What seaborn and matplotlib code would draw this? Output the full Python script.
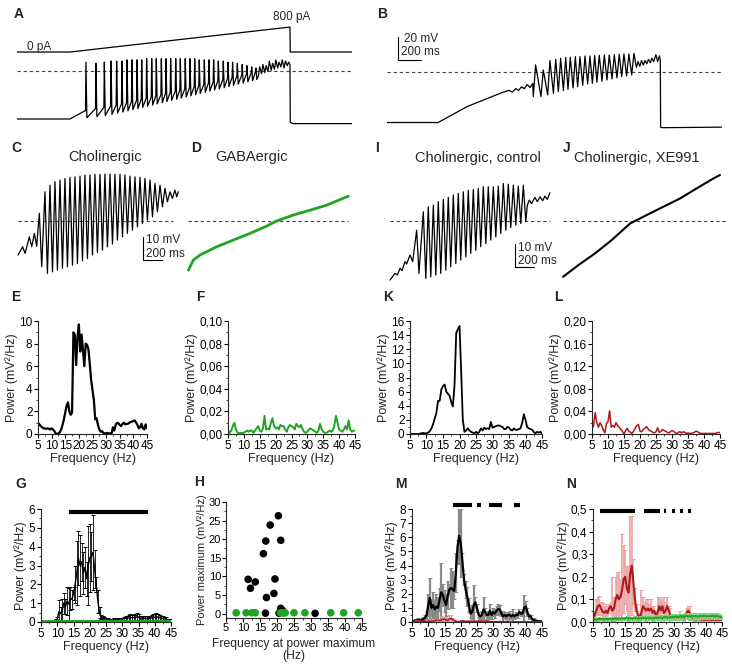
import numpy as np
import matplotlib
matplotlib.use('Agg')
import matplotlib.pyplot as plt
from matplotlib.ticker import MultipleLocator, AutoMinorLocator, FuncFormatter
import seaborn as sns

sns.set_theme(style='ticks')
plt.rcParams['font.family'] = ['Liberation Sans', 'DejaVu Sans']
plt.rcParams['axes.linewidth'] = 0.8

BLACK = '#000000'
GREEN = '#1fa51f'
RED = '#b01818'

# ---------------- voltage traces (ms, mV) ----------------
# A: ramp current injection, cholinergic cell
a_stim_t = [0, 461, 2375, 2378, 2915]
a_stim_pa = [0, 0, 800, 0, 0]
a_pre_t = [0, 461, 590]
a_pre_v = [-81, -81, -74]
a_spk_t = [600, 687, 760, 818, 867, 913, 957, 1000, 1044, 1085, 1128, 1172, 1212, 1256, 1296, 1337, 1381,
           1421, 1464, 1505, 1546, 1586, 1630, 1670, 1711, 1752, 1795, 1836, 1876, 1917, 1960, 2001, 2042, 2079]
a_spk_peak = [-32, -33, -32, -31, -31, -31, -30, -30, -30, -30, -29, -29, -29, -29, -29, -29, -29,
              -29, -29, -29, -29, -30, -30, -30, -30, -31, -31, -32, -32, -33, -34, -35, -36, -37]
a_spk_trough = [-80, -79, -78, -77, -76, -75, -74, -73, -72, -71, -70, -69, -68, -67, -66, -65, -64,
                -63, -62, -61, -60, -59, -58, -57, -56, -55, -54, -53, -52, -51, -50, -49, -48, -47]
a_spk_thr = [-74, -72, -71, -70, -69, -68, -67, -66, -65, -64, -63, -62, -61, -60, -59, -58, -57,
             -56, -55, -54, -53, -52, -51, -50, -49, -48, -47, -46, -45, -44, -43, -42, -41, -40]
a_tail_t = [2100, 2112, 2128, 2140, 2156, 2168, 2184, 2196, 2212, 2224, 2240, 2252, 2268, 2280, 2296,
            2308, 2324, 2336, 2352, 2364, 2375]
a_tail_v = [-44, -36, -42, -34, -41, -35, -40, -31, -39, -33, -38, -30, -37, -32, -36, -30, -37, -31,
            -35, -32, -34]
a_end_t = [2378, 2400, 2915]
a_end_v = [-84, -85, -85]

# B: same ramp, other cholinergic cell
b_pre_t = [0, 444, 700, 900, 1000, 1060, 1090, 1120, 1145, 1170, 1195, 1220, 1245, 1268]
b_pre_v = [-84, -84, -70, -62, -58, -56, -57.5, -54.5, -56, -53, -54.5, -51, -53.5, -50]
b_osc_t = [1293, 1360, 1418, 1468, 1511, 1555, 1595, 1639, 1679, 1723, 1766, 1807, 1847, 1891, 1934,
           1978, 2021, 2062, 2105, 2149]
b_osc_peak = [-33.9, -38.3, -30.1, -29.0, -28.1, -27.5, -27.2, -26.7, -26.7, -26.1, -26.1, -25.8, -25.5,
              -25.2, -25.2, -24.9, -24.6, -24.3, -24.3, -23.8]
b_osc_trough = [-61.5, -61.5, -60.0, -58.6, -57.1, -56.2, -55.1, -53.9, -52.8, -51.6, -50.4, -49.9,
                -49.0, -48.1, -47.0, -46.1, -45.2, -44.1, -43.5, -42.6]
b_tail_t = [2170, 2185, 2200, 2215, 2230, 2245, 2260, 2275, 2290, 2305, 2320, 2340, 2355, 2370, 2378]
b_tail_v = [-36, -31, -35, -30, -34, -30, -33, -29, -32, -28, -31, -25, -31, -26, -30]
b_end_t = [2381, 2400, 2915]
b_end_v = [-88, -88.5, -88]

# C: cholinergic, expanded
c_pre_t = [0, 49, 74, 119, 144, 172, 196, 224, 249]
c_pre_v = [-54.8, -51.2, -54.1, -46.9, -51.2, -45.4, -51.0, -36.7, -59.9]
c_osc_t = [283, 336, 388, 441, 493, 546, 598, 651, 703, 756, 808, 861, 913, 966, 1018, 1071, 1123,
           1176, 1228, 1281, 1333, 1386, 1438, 1491, 1543, 1596]
c_osc_peak = [-27.3, -24.4, -22.9, -22.2, -21.5, -21.0, -20.8, -20.5, -20.0, -20.0, -19.7, -19.7, -19.6,
              -19.6, -19.7, -19.7, -20.0, -20.5, -20.8, -21.0, -21.5, -22.2, -23.7, -24.4, -25.8, -27.3]
c_osc_trough = [-62.8, -62.1, -61.4, -60.6, -59.9, -59.2, -58.5, -57.3, -56.3, -54.8, -53.7, -52.7,
                -51.2, -50.0, -48.3, -46.9, -45.4, -44.0, -42.5, -41.1, -39.6, -38.2, -36.0, -33.8,
                -31.6, -30.2]
c_tail_t = [1631, 1648, 1666, 1683]
c_tail_v = [-28.7, -26.6, -29.5, -27.3]

# D: GABAergic
d_t = [4, 56, 126, 301, 476, 651, 826, 931, 1106, 1281, 1456, 1684]
d_v = [-61.4, -57.0, -54.8, -51.2, -48.3, -45.4, -42.2, -40.0, -37.4, -35.3, -33.1, -29.2]

# I: cholinergic, control
i_pre_t = [0, 52, 77, 105, 126, 157, 175, 210, 238, 280, 304]
i_pre_v = [-65.7, -62.8, -63.5, -60.6, -61.6, -57.7, -58.7, -54.8, -57.7, -44.0, -62.8]
i_osc_t = [350, 402, 455, 507, 560, 612, 665, 717, 770, 822, 875, 927, 980, 1032, 1085, 1137, 1190,
           1242, 1295, 1347, 1400]
i_osc_peak = [-36.0, -33.8, -33.1, -31.6, -30.6, -29.7, -28.7, -28.0, -27.3, -26.6, -26.3, -25.8, -25.1,
              -25.1, -25.1, -24.8, -23.7, -24.0, -24.4, -24.8, -24.4]
i_osc_trough = [-65.0, -64.3, -63.5, -62.8, -61.4, -59.9, -58.5, -57.0, -55.6, -54.1, -52.7, -51.2,
                -49.8, -48.3, -46.9, -45.4, -44.0, -42.8, -41.8, -41.1, -40.3]
i_tail_t = [1442, 1463, 1487, 1522, 1547, 1575, 1603, 1627, 1652, 1680]
i_tail_v = [-33.1, -30.9, -32.4, -29.7, -31.6, -29.5, -31.2, -29.2, -30.6, -27.7]

# J: cholinergic, XE991
j_t = [0, 161, 336, 511, 704, 879, 1054, 1229, 1404, 1579, 1648]
j_v = [-64.3, -59.2, -54.1, -48.3, -41.1, -37.4, -33.8, -30.2, -25.8, -21.5, -20.0]

dash_level = -40

# ---------------- power spectra (0.5 Hz bins, 5-45 Hz) ----------------
freq = np.arange(5, 45.01, 0.5)

e_power = [1.0, 0.85, 0.7, 0.6, 0.5, 0.5, 0.45, 0.5, 0.45, 0.4,
           0.5, 0.4, 0.25, 0.05, 0.0, 0.05, 0.15, 0.4, 0.8, 1.3,
           1.9, 2.5, 2.8, 2.0, 1.7, 1.9, 9.0, 8.8, 6.1, 8.6,
           9.7, 7.3, 8.8, 7.4, 6.0, 8.0, 7.9, 7.5, 6.2, 4.8,
           3.9, 3.0, 1.3, 1.4, 0.8, 0.4, 0.2, 0.25, 0.1, 0.05,
           0.05, 0.1, 0.05, 0.05, 0.05, 0.6, 0.3, 0.8, 1.0, 0.95,
           0.8, 0.7, 0.9, 1.0, 0.85, 0.9, 0.9, 1.0, 1.05, 1.1,
           1.15, 1.2, 1.0, 0.8, 0.5, 0.6, 0.9, 0.5, 0.4, 0.85,
           0.5]

f_power = [0.003, 0.001, 0.003, 0.007, 0.010, 0.004, 0.001, 0.001, 0.001, 0.001,
           0.001, 0.002, 0.003, 0.002, 0.003, 0.003, 0.001, 0.003, 0.005, 0.007,
           0.003, 0.002, 0.005, 0.016, 0.004, 0.005, 0.004, 0.010, 0.014, 0.007,
           0.005, 0.006, 0.004, 0.008, 0.007, 0.007, 0.004, 0.002, 0.006, 0.008,
           0.007, 0.006, 0.004, 0.009, 0.007, 0.006, 0.008, 0.004, 0.002, 0.001,
           0.002, 0.004, 0.005, 0.004, 0.003, 0.002, 0.001, 0.003, 0.009, 0.004,
           0.002, 0.001, 0.001, 0.002, 0.003, 0.002, 0.003, 0.008, 0.016, 0.010,
           0.004, 0.003, 0.002, 0.004, 0.007, 0.004, 0.012, 0.004, 0.002, 0.003,
           0.003]

k_power = [0.0, 0.0, 0.0, 0.0, 0.0, 0.0, 0.05, 0.1, 0.15, 0.1,
           0.1, 0.2, 0.4, 0.8, 1.4, 2.2, 3.0, 4.7, 4.7, 6.3,
           6.8, 7.0, 6.0, 5.7, 5.4, 4.5, 3.9, 7.0, 14.3, 14.8,
           15.3, 9.0, 2.0, 0.3, 0.5, 0.8, 0.5, 0.3, 0.2, 0.1,
           0.3, 0.1, 0.3, 0.8, 0.5, 0.9, 0.7, 0.8, 0.7, 1.7,
           0.9, 1.0, 1.1, 1.2, 1.2, 1.1, 1.0, 0.7, 0.7, 1.0,
           0.9, 0.6, 0.5, 0.8, 0.6, 0.6, 0.7, 0.8, 1.6, 2.8,
           2.0, 1.0, 0.8, 0.7, 0.6, 0.3, 0.1, 0.3, 0.2, 0.3,
           0.1]

l_power = [0.010, 0.015, 0.038, 0.020, 0.012, 0.020, 0.015, 0.008, 0.002, 0.018,
           0.022, 0.041, 0.012, 0.015, 0.012, 0.020, 0.015, 0.012, 0.008, 0.005,
           0.000, 0.006, 0.010, 0.005, 0.003, 0.001, 0.005, 0.010, 0.015, 0.017,
           0.005, 0.004, 0.008, 0.010, 0.013, 0.009, 0.006, 0.005, 0.003, 0.002,
           0.004, 0.011, 0.003, 0.004, 0.008, 0.006, 0.005, 0.003, 0.002, 0.004,
           0.006, 0.005, 0.002, 0.001, 0.003, 0.004, 0.002, 0.004, 0.003, 0.001,
           0.002, 0.001, 0.001, 0.002, 0.003, 0.005, 0.004, 0.002, 0.001, 0.001,
           0.001, 0.001, 0.001, 0.001, 0.001, 0.001, 0.001, 0.001, 0.002, 0.003,
           0.002]

# G: cholinergic mean +/- SEM
g_mean = [0.02, 0.02, 0.02, 0.02, 0.03, 0.03, 0.03, 0.04, 0.05, 0.08,
          0.15, 0.55, 0.45, 0.6, 1.0, 0.8, 1.1, 0.95, 1.25, 1.2,
          1.5, 2.0, 2.6, 3.4, 3.0, 3.2, 2.6, 2.9, 2.3, 3.0,
          3.4, 3.5, 3.7, 2.8, 2.0, 1.1, 0.5, 0.25, 0.2, 0.2,
          0.15, 0.15, 0.12, 0.12, 0.12, 0.13, 0.15, 0.15, 0.14, 0.15,
          0.15, 0.18, 0.2, 0.2, 0.22, 0.25, 0.22, 0.25, 0.22, 0.28,
          0.25, 0.2, 0.15, 0.18, 0.2, 0.18, 0.15, 0.2, 0.22, 0.25,
          0.25, 0.28, 0.25, 0.22, 0.2, 0.2, 0.15, 0.15, 0.1, 0.1,
          0.08]
g_err = [0.02, 0.02, 0.02, 0.02, 0.02, 0.02, 0.03, 0.03, 0.04, 0.06,
         0.1, 0.6, 0.35, 0.6, 0.55, 0.4, 0.75, 0.85, 0.6, 0.5,
         0.35, 1.0, 1.7, 1.45, 1.6, 1.0, 1.1, 1.1, 0.9, 2.1,
         1.8, 1.3, 2.0, 1.0, 0.4, 0.6, 0.3, 0.1, 0.1, 0.08,
         0.08, 0.08, 0.06, 0.06, 0.06, 0.07, 0.08, 0.08, 0.08, 0.08,
         0.08, 0.1, 0.12, 0.12, 0.14, 0.16, 0.14, 0.16, 0.14, 0.18,
         0.16, 0.14, 0.12, 0.12, 0.14, 0.12, 0.12, 0.14, 0.14, 0.16,
         0.16, 0.18, 0.16, 0.14, 0.14, 0.12, 0.1, 0.1, 0.08, 0.08,
         0.06]

# GABAergic mean +/- SEM (used in G and N)
gaba_mean = [0.010, 0.012, 0.010, 0.012, 0.015, 0.012, 0.013, 0.012, 0.014, 0.012,
             0.013, 0.015, 0.012, 0.014, 0.016, 0.013, 0.015, 0.014, 0.016, 0.015,
             0.016, 0.018, 0.015, 0.017, 0.016, 0.015, 0.018, 0.016, 0.015, 0.017,
             0.016, 0.018, 0.017, 0.015, 0.018, 0.016, 0.017, 0.015, 0.018, 0.020,
             0.018, 0.020, 0.019, 0.017, 0.020, 0.022, 0.020, 0.018, 0.021, 0.023,
             0.022, 0.025, 0.023, 0.021, 0.024, 0.026, 0.024, 0.025, 0.027, 0.025,
             0.024, 0.026, 0.025, 0.027, 0.026, 0.024, 0.027, 0.025, 0.026, 0.028,
             0.026, 0.025, 0.027, 0.025, 0.028, 0.026, 0.025, 0.027, 0.024, 0.022,
             0.020]
gaba_err = [0.005, 0.006, 0.005, 0.007, 0.006, 0.005, 0.006, 0.007, 0.005, 0.006,
            0.006, 0.007, 0.006, 0.008, 0.007, 0.006, 0.008, 0.007, 0.006, 0.008,
            0.007, 0.008, 0.009, 0.007, 0.008, 0.009, 0.008, 0.007, 0.009, 0.008,
            0.008, 0.009, 0.008, 0.010, 0.009, 0.008, 0.010, 0.009, 0.008, 0.010,
            0.009, 0.010, 0.011, 0.009, 0.010, 0.011, 0.010, 0.009, 0.011, 0.012,
            0.011, 0.012, 0.010, 0.013, 0.012, 0.011, 0.013, 0.012, 0.014, 0.012,
            0.013, 0.012, 0.014, 0.013, 0.012, 0.014, 0.013, 0.012, 0.014, 0.013,
            0.012, 0.013, 0.014, 0.012, 0.013, 0.012, 0.011, 0.012, 0.010, 0.009,
            0.008]

# M: cholinergic control mean +/- SEM
m_mean = [0.05, 0.05, 0.1, 0.1, 0.15, 0.1, 0.15, 0.2, 0.3, 0.5,
          1.2, 1.7, 1.0, 1.2, 0.9, 1.1, 1.0, 1.6, 2.1, 1.9,
          1.5, 1.2, 1.9, 2.3, 2.4, 2.3, 2.2, 3.5, 5.3, 6.1,
          5.6, 4.3, 3.0, 2.3, 1.8, 1.2, 0.6, 0.7, 1.2, 1.4,
          1.0, 0.5, 0.4, 0.5, 0.9, 0.7, 0.5, 0.5, 0.8, 0.5,
          0.7, 0.6, 0.8, 0.9, 0.9, 0.6, 0.4, 0.5, 0.4, 0.5,
          0.5, 0.4, 0.5, 0.4, 0.5, 0.5, 0.7, 0.6, 0.6, 1.0,
          1.1, 0.7, 0.4, 0.4, 0.2, 0.15, 0.1, 0.08, 0.05, 0.05,
          0.05]
m_err = [0.05, 0.05, 0.1, 0.1, 0.1, 0.1, 0.1, 0.15, 0.2, 0.3,
         0.8, 1.4, 0.6, 0.9, 0.7, 0.9, 0.8, 0.8, 2.1, 0.8,
         0.8, 0.8, 1.0, 0.4, 1.4, 1.3, 0.6, 1.4, 0.5, 2.0,
         2.4, 0.6, 0.4, 0.6, 0.7, 0.5, 0.3, 0.5, 1.4, 0.4,
         0.3, 0.2, 0.2, 0.3, 0.9, 0.3, 0.3, 0.3, 0.5, 0.3,
         0.3, 0.3, 0.3, 0.4, 0.3, 0.2, 0.4, 0.2, 0.2, 0.2,
         0.3, 0.2, 0.4, 0.2, 0.2, 0.2, 0.2, 0.2, 0.2, 0.9,
         0.4, 0.3, 0.2, 0.1, 0.1, 0.1, 0.05, 0.05, 0.05, 0.05,
         0.05]

# XE991 mean +/- SEM (used in M and N)
xe_mean = [0.02, 0.03, 0.05, 0.07, 0.075, 0.06, 0.045, 0.04, 0.05, 0.04,
           0.06, 0.07, 0.05, 0.06, 0.1, 0.12, 0.1, 0.11, 0.14, 0.19,
           0.2, 0.15, 0.13, 0.21, 0.25, 0.18, 0.1, 0.05, 0.03, 0.02,
           0.04, 0.07, 0.06, 0.05, 0.06, 0.05, 0.06, 0.04, 0.05, 0.03,
           0.04, 0.07, 0.05, 0.07, 0.04, 0.05, 0.07, 0.05, 0.03, 0.02,
           0.02, 0.02, 0.02, 0.02, 0.03, 0.02, 0.01, 0.02, 0.04, 0.05,
           0.04, 0.02, 0.01, 0.01, 0.01, 0.01, 0.01, 0.01, 0.01, 0.01,
           0.01, 0.01, 0.01, 0.01, 0.01, 0.01, 0.01, 0.01, 0.01, 0.01,
           0.01]
xe_err = [0.01, 0.02, 0.05, 0.04, 0.04, 0.03, 0.04, 0.03, 0.03, 0.03,
          0.02, 0.02, 0.15, 0.05, 0.1, 0.1, 0.12, 0.08, 0.25, 0.15,
          0.12, 0.1, 0.12, 0.26, 0.22, 0.1, 0.05, 0.03, 0.02, 0.02,
          0.1, 0.04, 0.03, 0.05, 0.04, 0.03, 0.04, 0.03, 0.02, 0.02,
          0.07, 0.04, 0.06, 0.03, 0.07, 0.04, 0.04, 0.02, 0.03, 0.01,
          0.01, 0.01, 0.01, 0.01, 0.02, 0.01, 0.01, 0.02, 0.02, 0.02,
          0.03, 0.01, 0.01, 0.01, 0.01, 0.01, 0.01, 0.01, 0.01, 0.01,
          0.01, 0.01, 0.01, 0.01, 0.01, 0.01, 0.01, 0.01, 0.01, 0.01,
          0.01]

# significance bars (Hz ranges)
g_sig = [[13.5, 37.8]]
m_sig = [[17.6, 23.5], [25.0, 26.2], [28.7, 32.7], [36.4, 38.2]]
n_sig = [[7.1, 18.0], [20.8, 25.8], [26.9, 27.7], [29.5, 30.3], [32.1, 32.9], [34.5, 35.3]]

# H: frequency / value of power maximum per cell
h_chol_f = [11.5, 12.2, 13.6, 16.9, 16.0, 16.7, 16.6, 18.0, 19.4, 19.1, 20.4, 21.1, 21.1, 21.6, 22.0, 20.6, 31.2]
h_chol_p = [9.2, 6.8, 8.5, 4.3, 16.1, 19.5, 0.1, 23.8, 9.3, 5.4, 26.3, 19.7, 1.4, 0.8, 0.3, 0.1, 0.05]
h_gaba_f = [8.0, 10.9, 12.6, 13.6, 21.0, 21.5, 22.0, 22.4, 25.0, 28.2, 35.8, 39.6, 43.9]
h_gaba_p = [0.2, 0.2, 0.2, 0.2, 0.2, 0.2, 0.2, 0.2, 0.2, 0.2, 0.2, 0.2, 0.2]

# ---------------- figure ----------------
W, H = 732, 664
fig = plt.figure(figsize=(W / 100, H / 100), dpi=100)
TICK_FS = 8.5
LAB_FS = 9


def box(l, t, r, b):
    return fig.add_axes([l / W, 1 - b / H, (r - l) / W, (b - t) / H])


def ftext(x, y, s, **kw):
    fig.text(x / W, 1 - y / H, s, **kw)


def line(ax, x, y, color, lw):
    sns.lineplot(x=np.asarray(x, float), y=np.asarray(y, float), ax=ax, color=color, lw=lw,
                 estimator=None, sort=False)


def spike_train(tp, vp, vt, vh):
    t, v = [], []
    for a, b, c, d in zip(tp, vp, vt, vh):
        t += [a - 4, a, a + 8]
        v += [d, b, c]
    return t, v


def osc_pt(tp, vp, vt, half):
    # peak then trough
    t, v = [], []
    for a, b, c in zip(tp, vp, vt):
        t += [a, a + half]
        v += [b, c]
    return t, v


def osc_tp(tp, vp, vt, half):
    # trough then peak
    t, v = [], []
    for a, b, c in zip(tp, vp, vt):
        t += [a - half, a]
        v += [c, b]
    return t, v


def dashed(ax, t0, t1):
    ax.plot([t0, t1], [dash_level, dash_level], color='#444444', lw=0.8, ls=(0, (3, 2.5)))


def trace_axes(l, t, r, b, xlim, ylim):
    ax = box(l, t, r, b)
    ax.set_xlim(*xlim)
    ax.set_ylim(*ylim)
    ax.axis('off')
    return ax


# A
axA = trace_axes(17, 20, 352, 130, (0, 2915), (-90.5, 4.4))
st, sv = spike_train(a_spk_t, a_spk_peak, a_spk_trough, a_spk_thr)
tA = a_pre_t + st + a_tail_t + a_end_t
vA = a_pre_v + sv + a_tail_v + a_end_v
dashed(axA, 0, 2915)
line(axA, tA, vA, BLACK, 0.9)
axA2 = trace_axes(17, 20, 352, 130, (0, 2915), (-2502, 1027))
line(axA2, a_stim_t, a_stim_pa, BLACK, 0.9)
ftext(27, 47, '0 pA', fontsize=8.5, va='center')
ftext(292, 17, '800 pA', fontsize=8.5, va='center', ha='center')

# B
axB = trace_axes(387, 30, 722, 130, (0, 2915), (-90.5, -3.5))
ot, ov = osc_tp(b_osc_t, b_osc_peak, b_osc_trough, 20)
tB = b_pre_t + ot + b_tail_t + b_end_t
vB = b_pre_v + ov + b_tail_v + b_end_v
dashed(axB, 0, 2915)
line(axB, tB, vB, BLACK, 0.9)
axB.plot([96, 96, 296], [-9.6, -29.6, -29.6], color=BLACK, lw=0.8)
axB.text(150, -11.3, '20 mV', fontsize=8.5, va='center')
axB.text(122, -23.0, '200 ms', fontsize=8.5, va='center')

# C
ylimC = (-67.84, -15.64)
axC = trace_axes(15, 165, 185, 285, (-31.5, 1753.5), ylimC)
ot, ov = osc_pt(c_osc_t, c_osc_peak, c_osc_trough, 26)
dashed(axC, 0, 1628)
line(axC, c_pre_t + ot + c_tail_t, c_pre_v + ov + c_tail_v, BLACK, 0.9)
axC.plot([1312, 1312, 1512], [-47, -57, -57], color=BLACK, lw=0.8)
axC.text(1340, -48.3, '10 mV', fontsize=8.5, va='center')
axC.text(1340, -54.4, '200 ms', fontsize=8.5, va='center')

# D
axD = trace_axes(185, 165, 352, 285, (-31.5, 1722), ylimC)
dashed(axD, 0, 1680)
line(axD, d_t, d_v, GREEN, 2.0)

# I
axI = trace_axes(387, 165, 557, 285, (-31.5, 1753.5), ylimC)
ot, ov = osc_pt(i_osc_t, i_osc_peak, i_osc_trough, 26)
dashed(axI, 0, 1680)
line(axI, i_pre_t + ot + i_tail_t, i_pre_v + ov + i_tail_v, BLACK, 0.9)
axI.plot([1312, 1312, 1512], [-50, -60, -60], color=BLACK, lw=0.8)
axI.text(1345, -51.6, '10 mV', fontsize=8.5, va='center')
axI.text(1345, -57.4, '200 ms', fontsize=8.5, va='center')

# J
axJ = trace_axes(557, 165, 730, 285, (-63, 1753.5), ylimC)
dashed(axJ, 0, 1722)
line(axJ, j_t, j_v, BLACK, 1.5)

ftext(105, 157, 'Cholinergic', fontsize=10.5, ha='center', va='center')
ftext(252, 157, 'GABAergic', fontsize=10.5, ha='center', va='center')
ftext(478, 158, 'Cholinergic, control', fontsize=10.5, ha='center', va='center')
ftext(637, 158, 'Cholinergic, XE991', fontsize=10.5, ha='center', va='center')


# spectra axes
def comma(dec):
    return FuncFormatter(lambda v, p: ('{:.%df}' % dec).format(v).replace('.', ','))


def style_axes(ax, ystep):
    ax.xaxis.set_major_locator(MultipleLocator(5))
    ax.yaxis.set_major_locator(MultipleLocator(ystep))
    ax.xaxis.set_minor_locator(AutoMinorLocator(2))
    ax.yaxis.set_minor_locator(AutoMinorLocator(2))
    sns.despine(ax=ax)
    ax.tick_params(which='major', length=3, width=0.8, labelsize=TICK_FS, pad=1, colors=BLACK)
    ax.tick_params(which='minor', length=1.5, width=0.6)


def spec_axes(l, t, r, b, ymax, ystep, dec=None):
    ax = box(l, t, r, b)
    ax.set_xlim(5, 45)
    ax.set_ylim(0, ymax)
    style_axes(ax, ystep)
    if dec is not None:
        ax.yaxis.set_major_formatter(comma(dec))
    ax.set_xlabel('Frequency (Hz)', fontsize=LAB_FS, labelpad=1)
    ax.set_ylabel('Power (mV²/Hz)', fontsize=LAB_FS, labelpad=1)
    return ax


axE = spec_axes(38, 321, 147, 434, 10, 2)
line(axE, freq, e_power, BLACK, 1.6)
axF = spec_axes(228, 321, 355, 434, 0.10, 0.02, dec=2)
line(axF, freq, f_power, GREEN, 1.4)
axK = spec_axes(410, 321, 542, 434, 16, 2)
line(axK, freq, k_power, BLACK, 1.3)
axL = spec_axes(592, 321, 720, 434, 0.20, 0.04, dec=2)
line(axL, freq, l_power, RED, 1.1)


def errbars(ax, mean, err, color, lw, cap=1.2):
    mean = np.asarray(mean, float)
    err = np.asarray(err, float)
    lower = np.minimum(err, mean)
    ax.errorbar(freq, mean, yerr=[lower, err], fmt='none', ecolor=color, elinewidth=lw,
                capsize=cap, capthick=0.7)


def sig(ax, ranges, y):
    for a, b in ranges:
        ax.plot([a, b], [y, y], color=BLACK, lw=3, solid_capstyle='butt', clip_on=False)


# G
axG = spec_axes(41, 509, 171, 622, 6, 1)
errbars(axG, g_mean, g_err, BLACK, 0.6)
line(axG, freq, g_mean, BLACK, 1.0)
line(axG, freq, gaba_mean, GREEN, 2.5)
sig(axG, g_sig, 5.85)

# H
axH = box(226, 502, 362, 618)
sns.scatterplot(x=h_chol_f, y=h_chol_p, ax=axH, color=BLACK, s=30, edgecolor='none', clip_on=False)
sns.scatterplot(x=h_gaba_f, y=h_gaba_p, ax=axH, color=GREEN, s=30, edgecolor='none', clip_on=False)
axH.set_xlim(5, 45)
axH.set_ylim(-1.2, 30)
style_axes(axH, 5)
axH.tick_params(which='major', labelsize=8, pad=0.5)
axH.set_xlabel('')
axH.set_ylabel('Power maximum (mV²/Hz)', fontsize=8, labelpad=1)
ftext(294, 644, 'Frequency at power maximum', fontsize=8.7, ha='center', va='center')
ftext(294, 656, '(Hz)', fontsize=8.7, ha='center', va='center')

# M
axM = spec_axes(412, 509, 542, 622, 8, 1)
errbars(axM, m_mean, m_err, '#8a8a8a', 1.6)
line(axM, freq, m_mean, BLACK, 1.6)
errbars(axM, xe_mean, xe_err, '#e59a9a', 1.0)
line(axM, freq, xe_mean, RED, 1.2)
sig(axM, m_sig, 8.3)

# N
axN = spec_axes(593, 509, 722, 622, 0.5, 0.1, dec=1)
errbars(axN, xe_mean, xe_err, '#eba3a3', 1.2)
line(axN, freq, xe_mean, RED, 1.5)
errbars(axN, gaba_mean, gaba_err, '#7fd07f', 1.0)
line(axN, freq, gaba_mean, GREEN, 1.5)
sig(axN, n_sig, 0.49)

# panel letters
for s, x, y in [('A', 14, 14), ('B', 377, 14), ('C', 11, 148), ('D', 191, 148), ('I', 375, 148),
                ('J', 563, 148), ('E', 11, 297), ('F', 196, 297), ('K', 383, 297), ('L', 554, 297),
                ('G', 15, 484), ('H', 194, 482), ('M', 395, 484), ('N', 566, 484)]:
    ftext(x, y, s, fontsize=10, weight='bold', va='center')

fig.savefig('out.png', dpi=100, facecolor='white')
